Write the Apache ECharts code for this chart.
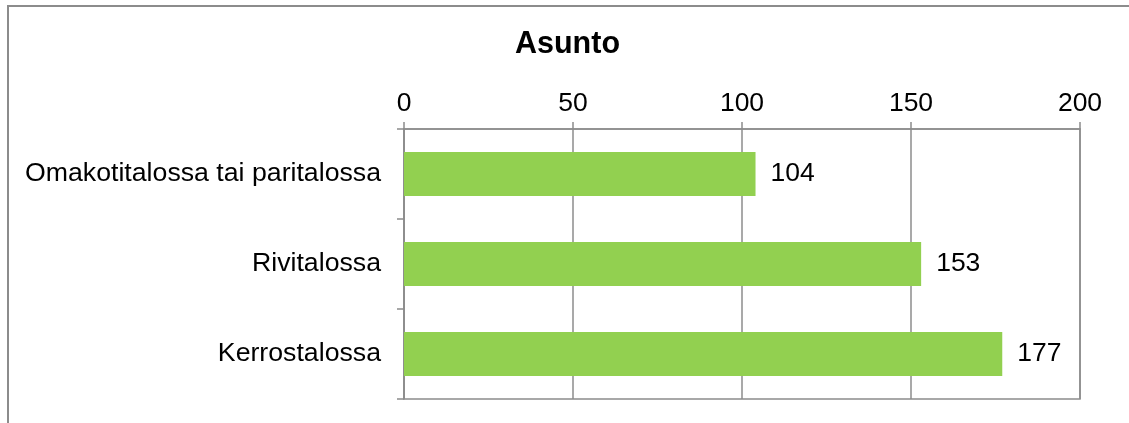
<!DOCTYPE html>
<html>
<head>
<meta charset="utf-8">
<script src="https://cdn.jsdelivr.net/npm/echarts@6/dist/echarts.min.js"></script>
<style>
html,body{margin:0;padding:0;background:#fff;}
#c{width:1129px;height:423px;}
</style>
</head>
<body>
<div id="c"></div>
<script>
const titleText = 'Asunto';
const categories = ['Omakotitalossa tai paritalossa', 'Rivitalossa', 'Kerrostalossa'];
const values = [104, 153, 177];
const axisMin = 0, axisMax = 200, axisStep = 50;

const FONT = '"Liberation Sans", Arial, sans-serif';
const LINE = '#8c8c8c';

const chart = echarts.init(document.getElementById('c'), null, {renderer: 'canvas'});
chart.setOption({
  animation: false,
  backgroundColor: '#fff',
  title: {
    text: titleText,
    left: 515,
    top: 29,
    padding: 0,
    textStyle: {fontFamily: FONT, fontSize: 30.5, fontWeight: 'bold', color: '#000'}
  },
  graphic: [{
    type: 'rect',
    shape: {x: 8, y: 6, width: 1300, height: 600},
    style: {fill: 'none', stroke: LINE, lineWidth: 2},
    silent: true
  }],
  grid: {
    left: 404, right: 49, top: 129, bottom: 24,
    show: true, borderColor: LINE, borderWidth: 1.5, backgroundColor: 'transparent'
  },
  xAxis: {
    type: 'value',
    position: 'top',
    min: axisMin, max: axisMax, interval: axisStep,
    axisLine: {show: true, lineStyle: {color: LINE, width: 1.5}},
    axisTick: {show: true, length: 7, lineStyle: {color: LINE, width: 1.5}},
    splitLine: {show: true, lineStyle: {color: LINE, width: 1.5}},
    axisLabel: {fontFamily: FONT, fontSize: 26.5, color: '#000', margin: 12}
  },
  yAxis: {
    type: 'category',
    data: categories,
    inverse: true,
    axisLine: {show: true, lineStyle: {color: LINE, width: 1.5}},
    axisTick: {show: true, length: 7, lineStyle: {color: LINE, width: 1.5}},
    splitLine: {show: false},
    axisLabel: {fontFamily: FONT, fontSize: 26.7, color: '#000', margin: 23}
  },
  series: [{
    type: 'bar',
    data: values,
    barWidth: '49%',
    itemStyle: {color: '#92D050'},
    label: {
      show: true, position: 'right', distance: 15,
      fontFamily: FONT, fontSize: 26.5, color: '#000'
    }
  }]
});
</script>
</body>
</html>
